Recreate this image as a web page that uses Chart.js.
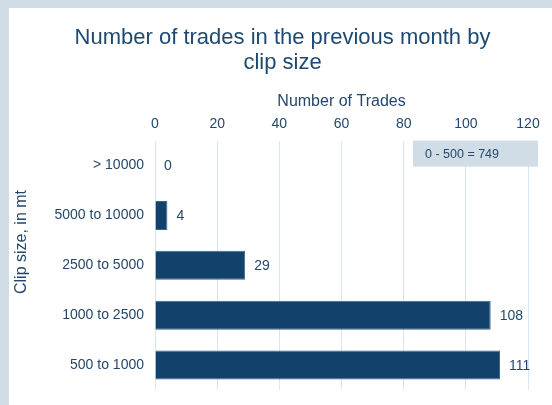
<!DOCTYPE html>
<html>
<head>
<meta charset="utf-8">
<script src="https://cdn.jsdelivr.net/npm/chart.js@4"></script>
<style>
  html, body { margin: 0; padding: 0; background: #d0dde7; width: 552px; height: 405px; overflow: hidden; }
  #panel { position: absolute; left: 9px; top: 8px; width: 543px; height: 397px; background: #fff; }
</style>
</head>
<body>
<div id="panel"><canvas id="canvas" width="543" height="397"></canvas></div>
<script>
// data
const clipSizes = ['> 10000', '5000 to 10000', '2500 to 5000', '1000 to 2500', '500 to 1000'];
const trades = [0, 4, 29, 108, 111];
const xMax = 120;
const xStep = 20;
const noteText = '0 - 500 = 749';
const yTitle = 'Clip size, in mt';

const navy = '#12416b';
const textCol = '#24486c';
const font = '"Liberation Sans", Arial, sans-serif';

// value labels at the end of each bar
const barLabels = {
  id: 'barLabels',
  afterDatasetsDraw(chart) {
    const ctx = chart.ctx;
    const meta = chart.getDatasetMeta(0);
    ctx.save();
    ctx.font = '14px ' + font;
    ctx.fillStyle = textCol;
    ctx.textAlign = 'left';
    ctx.textBaseline = 'middle';
    meta.data.forEach(function(bar, i) {
      ctx.fillText(String(trades[i]), bar.x + 9, bar.y + 1);
    });
    ctx.restore();
  }
};

// grey note box + rotated y title
const extras = {
  id: 'extras',
  afterDraw(chart) {
    const ctx = chart.ctx;
    const a = chart.chartArea;
    ctx.save();
    ctx.fillStyle = '#d0dde7';
    ctx.fillRect(a.right - 115, a.top, 125, 26);
    ctx.fillStyle = textCol;
    ctx.font = '12.5px ' + font;
    ctx.textBaseline = 'middle';
    ctx.fillText(noteText, a.right - 103, a.top + 14);

    ctx.translate(13, 234);
    ctx.rotate(-Math.PI / 2);
    ctx.textAlign = 'center';
    ctx.textBaseline = 'middle';
    ctx.font = '16px ' + font;
    ctx.fillText(yTitle, 0, 0);
    ctx.restore();
  }
};

const ctx = document.getElementById('canvas');
new Chart(ctx, {
  type: 'bar',
  data: {
    labels: clipSizes,
    datasets: [{
      data: trades,
      backgroundColor: navy,
      borderColor: '#3f6690',
      borderWidth: 1,
      barPercentage: 0.58,
      categoryPercentage: 1
    }]
  },
  plugins: [barLabels, extras],
  options: {
    responsive: false,
    animation: false,
    indexAxis: 'y',
    layout: { padding: { left: 28, right: 24, bottom: 15, top: 0 } },
    plugins: {
      legend: { display: false },
      tooltip: { enabled: false },
      title: {
        display: true,
        text: ['Number of trades in the previous month by', 'clip size'],
        color: '#1d4a72',
        font: { family: font, size: 22, weight: 'normal', lineHeight: 1.15 },
        padding: { top: 17, bottom: 16 }
      }
    },
    scales: {
      x: {
        position: 'top',
        min: 0,
        max: xMax,
        ticks: { stepSize: xStep, color: textCol, font: { family: font, size: 14 }, padding: 8 },
        grid: { color: '#d7e6f4', drawTicks: false },
        border: { display: false },
        title: {
          display: true,
          text: 'Number of Trades',
          color: textCol,
          font: { family: font, size: 16 },
          padding: { top: 0, bottom: 0 }
        },
        afterFit(scale) { scale.height = 49; }
      },
      y: {
        ticks: { color: textCol, font: { family: font, size: 14 }, padding: 3 },
        grid: { display: false },
        border: { display: false },
        afterFit(scale) { scale.width = 118; }
      }
    }
  }
});
</script>
</body>
</html>
